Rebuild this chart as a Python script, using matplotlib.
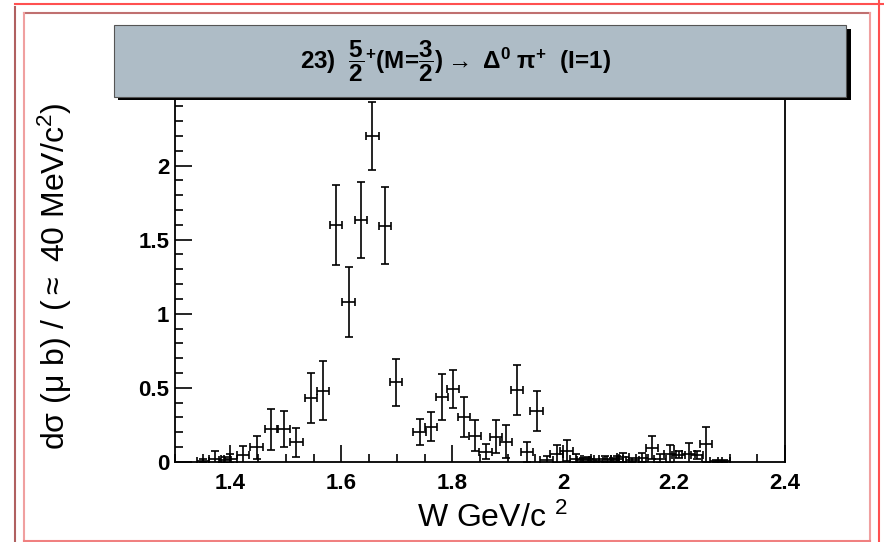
import numpy as np
import matplotlib
matplotlib.use("Agg")
import matplotlib.pyplot as plt
from matplotlib.patches import Rectangle
from matplotlib.lines import Line2D

plt.rcParams['font.family'] = ['Liberation Sans', 'DejaVu Sans']
plt.rcParams['mathtext.fontset'] = 'custom'
plt.rcParams['mathtext.rm'] = 'Liberation Sans:bold'
plt.rcParams['mathtext.bf'] = 'Liberation Sans:bold'
plt.rcParams['mathtext.it'] = 'Liberation Sans:bold:italic'
plt.rcParams['mathtext.sf'] = 'Liberation Sans:bold'

# W bins (GeV/c^2), cross section and errors
w = [1.350, 1.372, 1.390, 1.400, 1.422, 1.447, 1.473, 1.497, 1.519, 1.545,
     1.567, 1.590, 1.613, 1.635, 1.656, 1.678, 1.699, 1.741, 1.761, 1.781,
     1.802, 1.821, 1.841, 1.860, 1.879, 1.897, 1.917, 1.935, 1.952, 1.970,
     1.988, 2.006, 2.024, 2.036, 2.044, 2.060, 2.075, 2.090, 2.097, 2.108,
     2.125, 2.142, 2.160, 2.175, 2.193, 2.208, 2.226, 2.241, 2.257, 2.275,
     2.290]
sigma = [0.005, 0.020, 0.010, 0.020, 0.047, 0.097, 0.219, 0.222, 0.131, 0.430,
         0.480, 1.600, 1.080, 1.633, 2.200, 1.595, 0.536, 0.200, 0.237, 0.440,
         0.489, 0.304, 0.174, 0.068, 0.169, 0.135, 0.484, 0.068, 0.343, 0.010,
         0.050, 0.074, 0.020, 0.010, 0.015, 0.005, 0.016, 0.010, 0.020, 0.030,
         0.010, 0.027, 0.095, 0.020, 0.054, 0.047, 0.054, 0.045, 0.117, 0.005,
         0.005]
err = [0.010, 0.050, 0.020, 0.030, 0.060, 0.080, 0.140, 0.120, 0.100, 0.170,
       0.200, 0.270, 0.235, 0.260, 0.230, 0.260, 0.160, 0.090, 0.100, 0.155,
       0.128, 0.135, 0.105, 0.050, 0.110, 0.110, 0.170, 0.067, 0.135, 0.030,
       0.060, 0.070, 0.030, 0.015, 0.015, 0.010, 0.020, 0.015, 0.020, 0.030,
       0.015, 0.030, 0.080, 0.030, 0.060, 0.025, 0.070, 0.030, 0.120, 0.005,
       0.005]
half_bin = 0.011

W, H = 884, 542
fig = plt.figure(figsize=(W / 100, H / 100), dpi=100)


def fx(px):
    return px / W


def fy(py):
    return 1 - py / H


ax = fig.add_axes([fx(175), fy(461.7), fx(785) - fx(175), fy(91.7) - fy(461.7)])
ax.errorbar(w, sigma, yerr=err, xerr=half_bin, fmt='none', ecolor='black',
            elinewidth=1.2, capsize=2.8, capthick=1.2)
ax.set_xlim(1.3, 2.4)
ax.set_ylim(0, 2.5)
ax.set_xticks(np.arange(1.4, 2.41, 0.2))
ax.set_xticklabels(['1.4', '1.6', '1.8', '2', '2.2', '2.4'])
ax.set_xticks(np.arange(1.3, 2.401, 0.05), minor=True)
ax.set_yticks([0, 0.5, 1, 1.5, 2, 2.5])
ax.set_yticklabels(['0', '0.5', '1', '1.5', '2', '2.5'])
ax.set_yticks(np.arange(0, 2.51, 0.1), minor=True)
ax.tick_params(which='both', direction='in', top=False, right=False, width=1.2)
ax.tick_params(which='major', length=12, labelsize=16)
ax.tick_params(axis='x', which='major', pad=8)
ax.tick_params(axis='y', which='major', pad=4)
ax.tick_params(which='minor', length=6)
for lab in ax.get_xticklabels() + ax.get_yticklabels():
    lab.set_fontweight('bold')
for s in ax.spines.values():
    s.set_linewidth(1.3)
ax.set_xlabel(r'W GeV/c $\mathregular{^{2}}$', fontsize=23)
ax.set_ylabel(r'd$\mathregular{\sigma}$ ($\mathregular{\mu}$ b) / ($\mathregular{\approx}$ 40 MeV/c$\mathregular{^{2}}$)',
              fontsize=23)
ax.xaxis.set_label_coords(0.52, -0.11)
ax.yaxis.set_label_coords(-0.165, 0.5)

# title box with shadow
fig.add_artist(Rectangle((fx(118), fy(100)), fx(851) - fx(118), fy(29) - fy(100),
                         transform=fig.transFigure, facecolor='black', edgecolor='none', zorder=5))
fig.add_artist(Rectangle((fx(114), fy(97)), fx(846) - fx(114), fy(25) - fy(97),
                         transform=fig.transFigure, facecolor='#aebcc6', edgecolor='#555555',
                         linewidth=0.8, zorder=6))
fig.text(fx(456), fy(61),
         r'23)  $\dfrac{5}{2}^{+}$(M=$\dfrac{3}{2}$)$\rightarrow$ $\Delta^{0}$ $\mathrm{\pi}^{+}$  (I=1)',
         fontsize=17.5, fontweight='bold', ha='center', va='center', zorder=7)

# frame lines around the canvas
frame = [((15, 884), (4, 4), '#ff5050'),
         ((15, 15), (7, 542), '#b06060'),
         ((879, 879), (0, 542), '#ff5050'),
         ((24, 870), (13, 13), '#c07070'),
         ((24, 24), (13, 541), '#f0a0a0'),
         ((870, 870), (13, 541), '#f0a0a0'),
         ((24, 870), (541, 541), '#f08080')]
for xs, ys, c in frame:
    fig.add_artist(Line2D([fx(v) for v in xs], [fy(v) for v in ys],
                          transform=fig.transFigure, color=c, linewidth=1.5, zorder=8))

fig.savefig('out.png', dpi=100)
